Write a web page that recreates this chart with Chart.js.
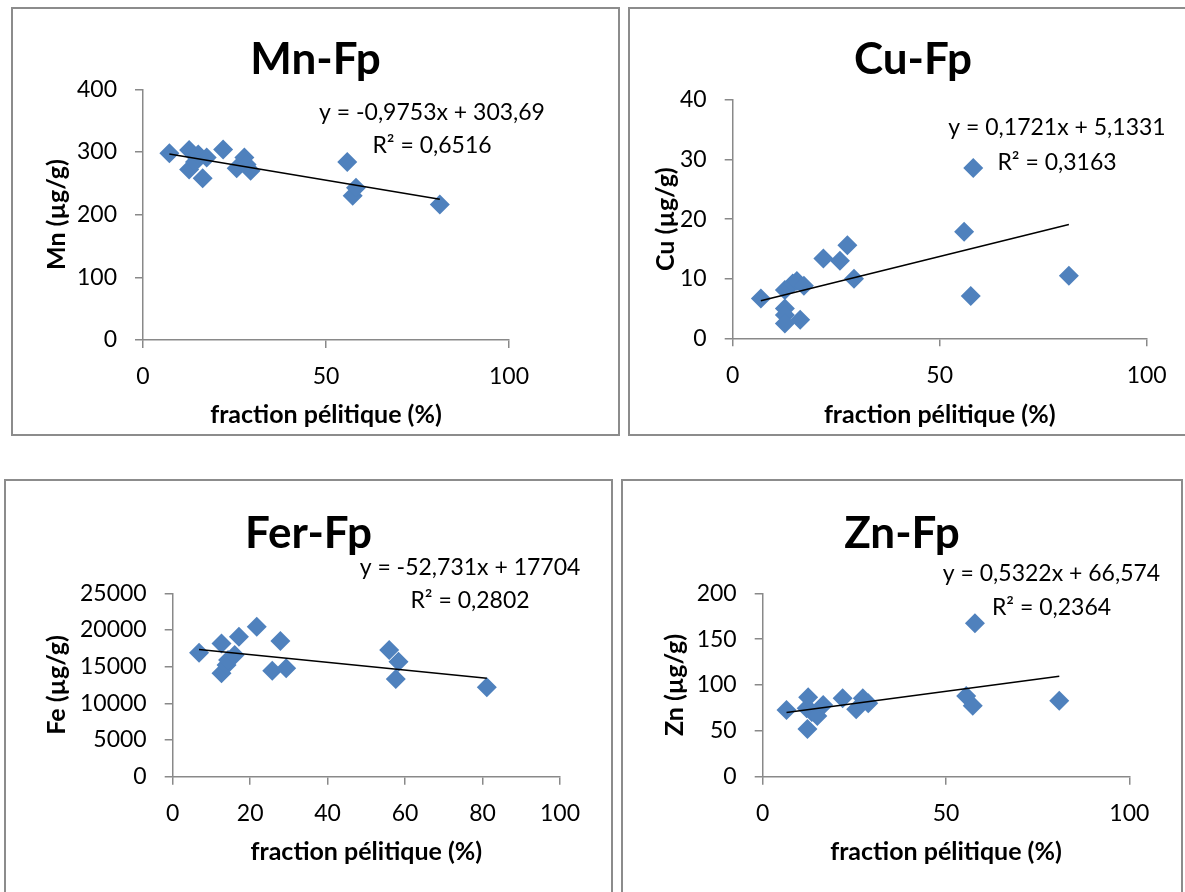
<!DOCTYPE html>
<html>
<head>
<meta charset="utf-8">
<script src="https://cdn.jsdelivr.net/npm/chart.js@4.4.1/dist/chart.umd.min.js"></script>
<style>
  html, body { margin: 0; padding: 0; background: #fff; width: 1185px; height: 892px; overflow: hidden; }
  .panel { position: absolute; box-sizing: border-box; border: 2px solid #8c8c8c; background: #fff; }
  .panel canvas { display: block; }
</style>
</head>
<body>
<div class="panel" id="p1"><canvas id="c1"></canvas></div>
<div class="panel" id="p2"><canvas id="c2"></canvas></div>
<div class="panel" id="p3"><canvas id="c3"></canvas></div>
<div class="panel" id="p4"><canvas id="c4"></canvas></div>
<script>
// Pelitic fraction (%) of each sample and the metal content (µg/g)
const mnFp  = [7.2, 12.6, 12.6, 14.2, 15.1, 16.3, 17.4, 21.9, 25.6, 27.7, 28.3, 29.4, 55.8, 57.3, 58.2, 81.1];
const mnVal = [298, 303, 272, 284, 296, 258, 291, 304, 274, 291, 280, 270, 284, 230, 243, 216];

const cuFp  = [6.8, 12.6, 12.6, 12.6, 12.6, 14.5, 15.5, 16.3, 17.2, 21.9, 25.9, 27.7, 29.3, 55.9, 57.5, 58.1, 81.2];
const cuVal = [6.7, 8.1, 5.0, 3.9, 2.5, 9.2, 9.6, 3.1, 8.8, 13.4, 13.0, 15.6, 10.0, 17.9, 7.1, 28.6, 10.5];

const feFp  = [6.8, 12.6, 12.6, 13.9, 14.3, 16.0, 17.1, 21.7, 25.7, 27.8, 29.3, 55.9, 57.6, 58.3, 81.1];
const feVal = [16900, 18170, 14090, 15220, 15900, 16580, 19070, 20440, 14440, 18490, 14770, 17260, 13310, 15670, 12180];

const znFp  = [6.5, 12.0, 12.2, 12.4, 13.4, 14.9, 16.5, 21.8, 25.5, 27.3, 28.8, 55.5, 57.3, 57.9, 80.9];
const znVal = [72.7, 74.6, 52, 86.6, 70.6, 66.2, 78.2, 85.5, 73.5, 85.5, 80, 88, 77.4, 167.3, 82.9];

// Linear trend lines: slope, intercept, R²  (order: Mn, Cu, Fe, Zn)
const trendSlope     = [-0.9753, 0.1721, -52.731, 0.5322];
const trendIntercept = [303.69, 5.1331, 17704, 66.574];
const trendR2        = [0.6516, 0.3163, 0.2802, 0.2364];

// Axis tick values
const fpTicks50 = [0, 50, 100];
const fpTicks20 = [0, 20, 40, 60, 80, 100];
const mnTicks = [0, 100, 200, 300, 400];
const cuTicks = [0, 10, 20, 30, 40];
const feTicks = [0, 5000, 10000, 15000, 20000, 25000];
const znTicks = [0, 50, 100, 150, 200];

const chartTitles = ['Mn-Fp', 'Cu-Fp', 'Fer-Fp', 'Zn-Fp'];
const yTitles = ['Mn (µg/g)', 'Cu (µg/g)', 'Fe (µg/g)', 'Zn (µg/g)'];
const xTitle = 'fraction pélitique (%)';

const FONT = 'Lato';
const AXIS_GREY = '#898989';
const MARKER = '#4F81BD';

// Panel frames and plot areas in page pixels
const panels = [
  { canvas: 'c1', div: 'p1', box: [11, 7, 609, 429],  plot: [143, 89.3, 509, 340],
    fp: mnFp, val: mnVal, xTicks: fpTicks50, yTicks: mnTicks,
    titleBase: 74, yTitleX: 57, xTitleY: 415, eqX: 432, eqY: [120, 153] },
  { canvas: 'c2', div: 'p2', box: [628, 7, 570, 429], plot: [732.7, 100, 1146.7, 338.3],
    fp: cuFp, val: cuVal, xTicks: fpTicks50, yTicks: cuTicks,
    titleBase: 74, yTitleX: 666, xTitleY: 415, eqX: 1057, eqY: [135, 170] },
  { canvas: 'c3', div: 'p3', box: [4, 479, 609, 430], plot: [172.7, 593.3, 560, 776.7],
    fp: feFp, val: feVal, xTicks: fpTicks20, yTicks: feTicks,
    titleBase: 548, yTitleX: 57, xTitleY: 852, eqX: 470, eqY: [575, 608] },
  { canvas: 'c4', div: 'p4', box: [621, 479, 562, 430], plot: [762.7, 593.3, 1129.3, 776.7],
    fp: znFp, val: znVal, xTicks: fpTicks50, yTicks: znTicks,
    titleBase: 548, yTitleX: 675, xTitleY: 852, eqX: 1051.5, eqY: [581, 615] }
];

const fmt = n => String(n).replace('.', ',');
const eqText = (a, b) => 'y = ' + fmt(a) + 'x ' + (b < 0 ? '- ' : '+ ') + fmt(Math.abs(b));

function build() {
  panels.forEach((p, i) => {
    const [bx, by, bw, bh] = p.box;
    const div = document.getElementById(p.div);
    Object.assign(div.style, { left: bx + 'px', top: by + 'px', width: bw + 'px', height: bh + 'px' });
    const ox = bx + 2, oy = by + 2, cw = bw - 4, ch = bh - 4;
    const cv = document.getElementById(p.canvas);
    cv.width = cw; cv.height = ch;
    cv.style.width = cw + 'px'; cv.style.height = ch + 'px';

    const [pl, pt, pr, pb] = p.plot;
    const tickSize = 23, titleSize = 25, lh = titleSize * 1.2;
    const yW = pl - ox;
    const xH = p.xTitleY - pb + lh / 2;
    const padTop = pt - oy;
    const padRight = ox + cw - pr;
    const padBottom = oy + ch - pb - xH;

    const pts = p.fp.map((x, k) => ({ x: x, y: p.val[k] }));
    const xMin = Math.min(...p.fp), xMax = Math.max(...p.fp);
    const a = trendSlope[i], b = trendIntercept[i];
    const trend = [{ x: xMin, y: a * xMin + b }, { x: xMax, y: a * xMax + b }];

    const yT = p.yTicks, xT = p.xTicks;

    const panelText = {
      id: 'panelText',
      afterDraw(chart) {
        const ctx = chart.ctx;
        ctx.save();
        ctx.fillStyle = '#000';
        ctx.textAlign = 'center';
        ctx.textBaseline = 'alphabetic';
        ctx.font = 'bold 44px ' + FONT;
        ctx.fillText(chartTitles[i], cw / 2, p.titleBase - oy);
        ctx.font = '23px ' + FONT;
        ctx.fillText(eqText(a, b), p.eqX - ox, p.eqY[0] - oy);
        ctx.fillText('R² = ' + fmt(trendR2[i]), p.eqX - ox, p.eqY[1] - oy);
        ctx.restore();
      }
    };

    new Chart(cv, {
      type: 'scatter',
      data: {
        datasets: [
          { data: trend, showLine: true, borderColor: '#000', borderWidth: 1.6,
            pointRadius: 0, fill: false, order: 0 },
          { data: pts, pointStyle: 'rectRot', pointRadius: 10,
            backgroundColor: MARKER, borderColor: MARKER, borderWidth: 0, order: 1 }
        ]
      },
      options: {
        responsive: false,
        animation: false,
        events: [],
        layout: { padding: { left: 0, top: padTop, right: padRight, bottom: padBottom } },
        plugins: { legend: { display: false }, tooltip: { enabled: false }, title: { display: false } },
        scales: {
          x: {
            type: 'linear', position: 'bottom',
            min: xT[0], max: xT[xT.length - 1],
            afterBuildTicks: s => { s.ticks = xT.map(v => ({ value: v })); },
            ticks: { padding: 15, color: '#000', maxRotation: 0, autoSkip: false,
                     font: { family: FONT, size: tickSize }, callback: v => String(v) },
            grid: { drawOnChartArea: false, drawTicks: true, tickLength: 8, color: AXIS_GREY, lineWidth: 1.5 },
            border: { color: AXIS_GREY, width: 1.5 },
            title: { display: true, text: xTitle, color: '#000', padding: { top: 0, bottom: 0 },
                     font: { family: FONT, size: titleSize, weight: 'bold' } },
            afterFit: s => { s.height = xH; }
          },
          y: {
            type: 'linear', position: 'left',
            min: yT[0], max: yT[yT.length - 1],
            afterBuildTicks: s => { s.ticks = yT.map(v => ({ value: v })); },
            ticks: { padding: 18, color: '#000', autoSkip: false,
                     font: { family: FONT, size: tickSize }, callback: v => String(v) },
            grid: { drawOnChartArea: false, drawTicks: true, tickLength: 8, color: AXIS_GREY, lineWidth: 1.5 },
            border: { color: AXIS_GREY, width: 1.5 },
            title: { display: true, text: yTitles[i], color: '#000',
                     padding: { top: p.yTitleX - ox - lh / 2, bottom: 0 },
                     font: { family: FONT, size: titleSize, weight: 'bold' } },
            afterFit: s => { s.width = yW; }
          }
        }
      },
      plugins: [panelText]
    });
  });
}

const fontsReady = document.fonts && document.fonts.load
  ? Promise.all([document.fonts.load('23px Lato'), document.fonts.load('bold 44px Lato')]).catch(() => {})
  : Promise.resolve();
fontsReady.then(build);
</script>
</body>
</html>
